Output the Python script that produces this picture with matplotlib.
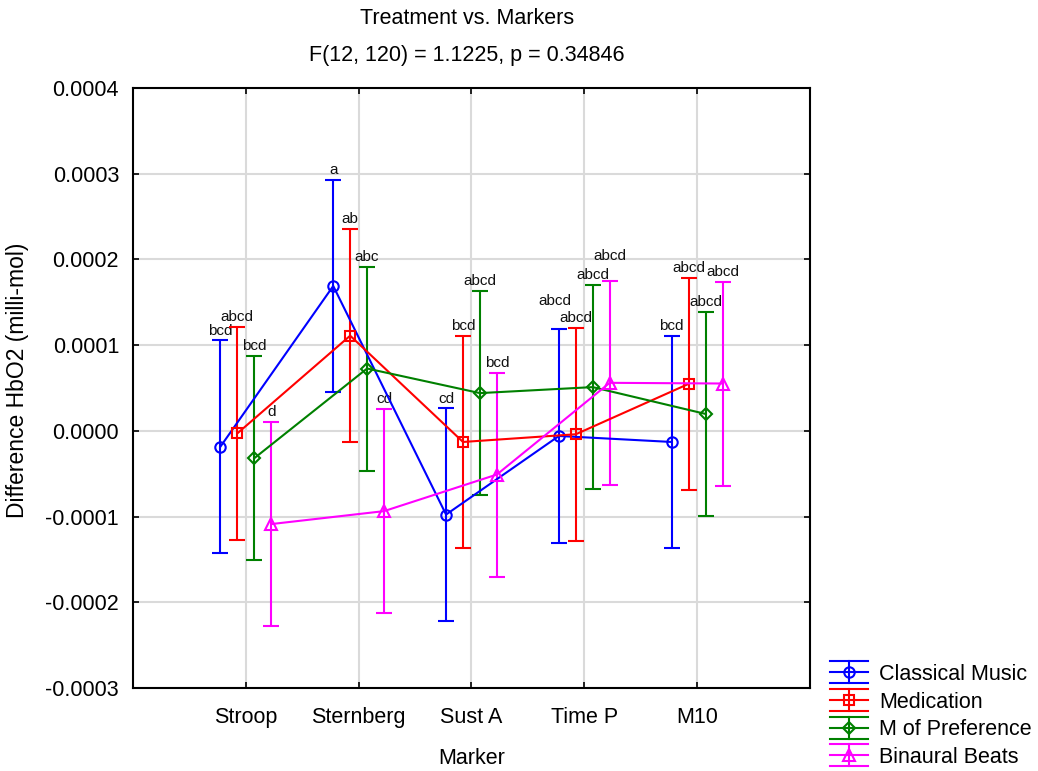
import numpy as np
import matplotlib
matplotlib.use("Agg")
import matplotlib.pyplot as plt
from matplotlib.lines import Line2D

plt.rcParams['font.family'] = ['Liberation Sans', 'DejaVu Sans']

# Data
markers = ["Stroop", "Sternberg", "Sust A", "Time P", "M10"]
groups = ["Classical Music", "Medication", "M of Preference", "Binaural Beats"]

classical_mean = [-0.0000185, 0.000169, -0.0000977, -0.000006, -0.000013]
classical_ci = [0.000124, 0.000124, 0.000124, 0.000125, 0.000124]
medication_mean = [-0.000003, 0.000111, -0.000013, -0.000004, 0.0000548]
medication_ci = [0.000124, 0.0001245, 0.000124, 0.0001245, 0.000124]
preference_mean = [-0.000032, 0.0000727, 0.000044, 0.000051, 0.0000197]
preference_ci = [0.000119, 0.000119, 0.000119, 0.000119, 0.000119]
binaural_mean = [-0.0001088, -0.0000937, -0.000051, 0.000056, 0.0000552]
binaural_ci = [0.000119, 0.000119, 0.000119, 0.000119, 0.000119]

classical_labels = ["bcd", "a", "cd", "abcd", "bcd"]
medication_labels = ["abcd", "ab", "bcd", "abcd", "abcd"]
preference_labels = ["bcd", "abc", "abcd", "abcd", "abcd"]
binaural_labels = ["d", "cd", "bcd", "abcd", "abcd"]

means = [classical_mean, medication_mean, preference_mean, binaural_mean]
cis = [classical_ci, medication_ci, preference_ci, binaural_ci]
letters = [classical_labels, medication_labels, preference_labels, binaural_labels]
colors = ["#0000ff", "#ff0000", "#008000", "#ff00ff"]
symbols = ["o", "s", "D", "^"]
sizes = [7.5, 7, 6.5, 8]
offsets = [-0.225, -0.075, 0.075, 0.225]
# labels that the original pushed up to avoid collisions (group, marker) -> points
lifted = {(0, 3): 13, (3, 3): 11}
shifted = {(0, 3): -3}

fig = plt.figure(figsize=(10.38, 7.71), dpi=100)
ax = fig.add_axes([0.1281, 0.1077, 0.6522, 0.7782])

x = np.arange(len(markers))
for i in range(len(groups)):
    xs = x + offsets[i]
    m = np.array(means[i])
    c = np.array(cis[i])
    ax.errorbar(xs, m, yerr=c, color=colors[i], marker=symbols[i],
                mfc='none', mec=colors[i], ms=sizes[i], mew=1.5, lw=1.5,
                elinewidth=1.5, capsize=6, capthick=1.5, zorder=3)
    for j, (xi, top, lab) in enumerate(zip(xs, m + c, letters[i])):
        dy = 2 + lifted.get((i, j), 0)
        dx = shifted.get((i, j), 0)
        ax.annotate(lab, (xi, top), xytext=(dx, dy), textcoords='offset points',
                    ha='center', va='bottom', fontsize=11, color='#111111')

ax.set_xlim(-1, 5)
ax.set_ylim(-0.0003, 0.0004)
ax.set_xticks(x)
ax.set_xticklabels(markers)
ax.set_yticks(np.arange(-0.0003, 0.00041, 0.0001))
ax.set_yticklabels(["%.4f" % v for v in np.arange(-0.0003, 0.00041, 0.0001)])
ax.grid(True, color='#dadada', lw=1.5, zorder=0)
ax.set_axisbelow(True)
ax.tick_params(direction='in', length=4, width=1.2, labelsize=15.5,
               top=True, right=True, pad=10)
ax.tick_params(axis='x', pad=14)
for sp in ax.spines.values():
    sp.set_linewidth(1.5)

ax.set_xlabel("Marker", fontsize=15.5, labelpad=14)
ax.set_ylabel("Difference HbO2 (milli-mol)", fontsize=16.5)
ax.yaxis.set_label_coords(-0.154, 0.513)

fig.text(0.4495, 0.976, "Treatment vs. Markers", ha='center', va='center', fontsize=15.5)
fig.text(0.4495, 0.928, "F(12, 120) = 1.1225, p = 0.34846", ha='center', va='center', fontsize=15.5)


class ErrHandler:
    def __init__(self, color, marker, ms):
        self.color = color
        self.marker = marker
        self.ms = ms

    def legend_artist(self, legend, orig_handle, fontsize, handlebox):
        x0 = -handlebox.xdescent
        y0 = -handlebox.ydescent
        w, h = handlebox.width, handlebox.height
        yc = y0 + h / 2
        d = 8
        tr = handlebox.get_transform()
        arts = [
            Line2D([x0, x0 + w], [yc, yc], color=self.color, lw=1.5),
            Line2D([x0, x0 + w], [yc + d, yc + d], color=self.color, lw=1.5),
            Line2D([x0, x0 + w], [yc - d, yc - d], color=self.color, lw=1.5),
            Line2D([x0 + w / 2, x0 + w / 2], [yc - d, yc + d], color=self.color, lw=1.5),
            Line2D([x0 + w / 2], [yc], color=self.color, marker=self.marker,
                   mfc='none', ms=self.ms, mew=1.5, lw=0),
        ]
        for a in arts:
            a.set_transform(tr)
            handlebox.add_artist(a)
        return arts[0]


handles = [Line2D([], [], color=c) for c in colors]
hmap = {h: ErrHandler(c, s, ms) for h, c, s, ms in zip(handles, colors, symbols, sizes)}
fig.legend(handles, groups, handler_map=hmap, loc='upper left',
           bbox_to_anchor=(0.8, 0.139), frameon=False, fontsize=15.5,
           handlelength=1.75, handletextpad=0.5, labelspacing=0.31,
           borderpad=0, borderaxespad=0)

fig.savefig("out.png", dpi=100)
